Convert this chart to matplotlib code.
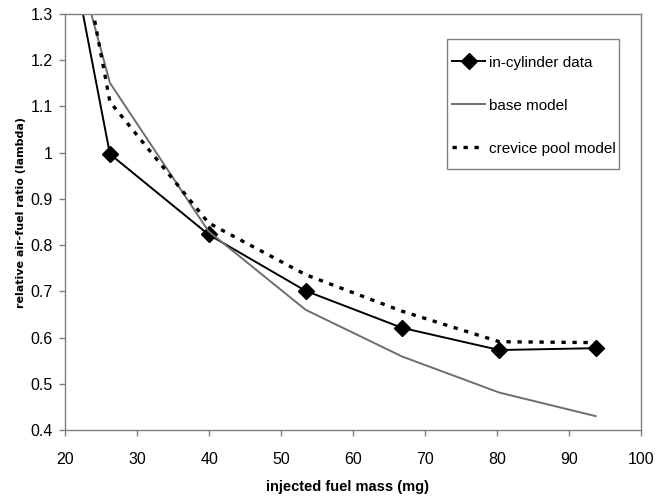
import matplotlib.pyplot as plt
from matplotlib.patches import Rectangle

plt.rcParams['font.family'] = ['Liberation Sans', 'DejaVu Sans']

# datos (el primer punto queda fuera del area visible)
masa = [12.7, 26.2, 39.9, 53.4, 66.8, 80.3, 93.7]
cilindro = [2.09, 0.997, 0.823, 0.701, 0.621, 0.573, 0.577]
base = [1.93, 1.151, 0.83, 0.66, 0.559, 0.481, 0.430]
grieta = [2.23, 1.11, 0.848, 0.736, 0.657, 0.591, 0.589]

xticks = [20, 30, 40, 50, 60, 70, 80, 90, 100]
yticks = [0.4, 0.5, 0.6, 0.7, 0.8, 0.9, 1.0, 1.1, 1.2, 1.3]
yticklabels = ['0.4', '0.5', '0.6', '0.7', '0.8', '0.9', '1', '1.1', '1.2', '1.3']

fig = plt.figure(figsize=(6.65, 4.99), dpi=100)
ax = fig.add_axes([0.0982, 0.1383, 0.8657, 0.8336])

ax.plot(masa, cilindro, color='black', linewidth=1.4, marker='D',
        markersize=8, label='in-cylinder data')
ax.plot(masa, base, color='#6e6e6e', linewidth=1.4, label='base model')
ax.plot(masa, grieta, color='black', linewidth=2.4, linestyle=(0, (1.3, 2.0)),
        dash_capstyle='butt', label='crevice pool model')

ax.set_xlim(20, 100)
ax.set_ylim(0.4, 1.3)
ax.set_xticks(xticks)
ax.set_yticks(yticks)
ax.set_yticklabels(yticklabels)

for s in ax.spines.values():
    s.set_color('#808080')
    s.set_linewidth(1.0)
ax.tick_params(direction='out', length=4, width=1, color='#808080', labelsize=11.5)
ax.tick_params(axis='x', pad=12)
ax.tick_params(axis='y', pad=5)

ax.set_xlabel('injected fuel mass (mg)', fontsize=10.5, fontweight='bold')
ax.xaxis.set_label_coords(0.491, -0.12)
ax.set_ylabel('relative air-fuel ratio (lambda)', fontsize=8, fontweight='bold',
              family='DejaVu Sans')
ax.yaxis.set_label_coords(-0.069, 0.524)

# recuadro de la leyenda
ax.add_patch(Rectangle((0.663, 0.627), 0.299, 0.3125, transform=ax.transAxes,
                       facecolor='white', edgecolor='#808080', linewidth=1.0, zorder=4))
leg = ax.legend(loc='center', bbox_to_anchor=(0.814, 0.780), fontsize=11,
                frameon=False, handlelength=2.16, handletextpad=0.26,
                labelspacing=1.9, borderpad=0, borderaxespad=0)
leg.set_zorder(5)

plt.savefig('out.png', dpi=100)
